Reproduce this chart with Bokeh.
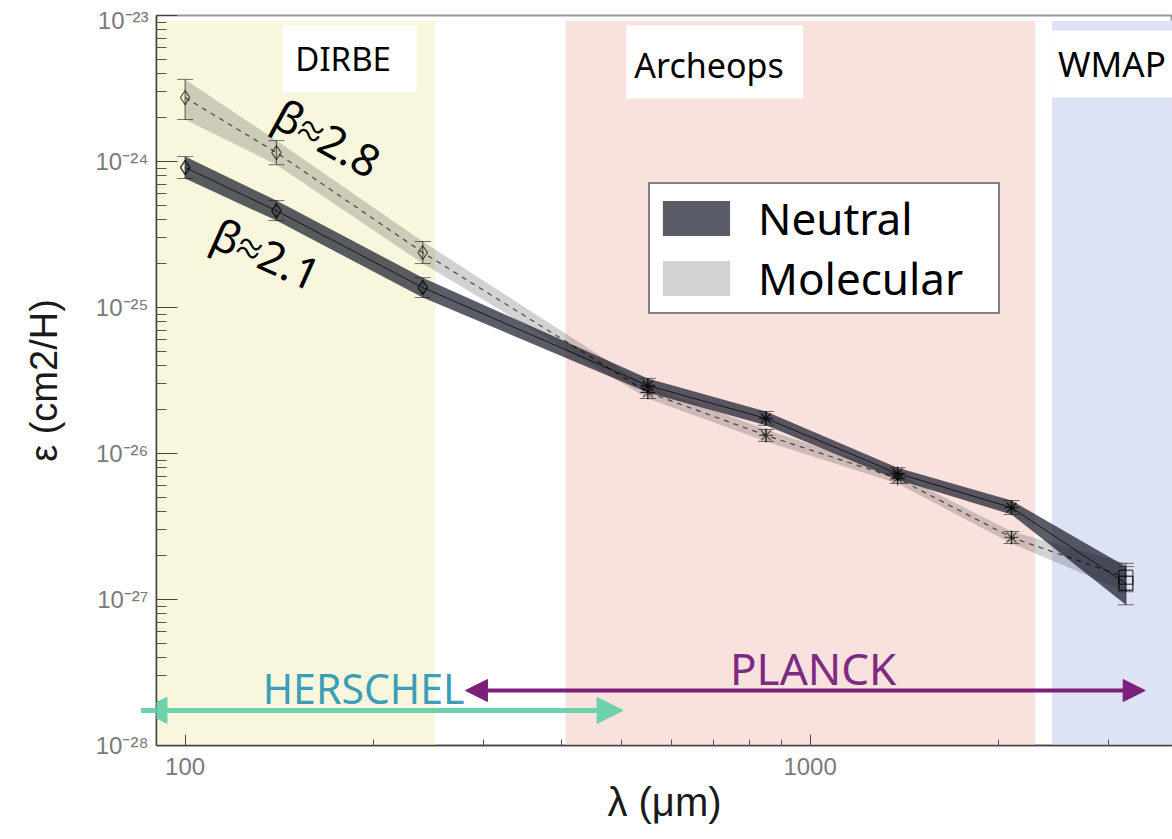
import re
from bokeh.plotting import figure
from bokeh.models import (ColumnDataSource, BoxAnnotation, Whisker, TeeHead, Arrow, NormalHead,
                          FixedTicker, CustomJSTickFormatter, Legend, LegendItem)
from bokeh.core.properties import value
from bokeh.embed import file_html
from bokeh.resources import INLINE

# ---------------- data ----------------
wavelength = [100, 140, 240, 550, 850, 1380, 2100, 3200]          # micron
instrument = ["DIRBE", "DIRBE", "DIRBE", "Archeops", "Archeops", "Archeops", "Archeops", "WMAP"]
neutral = [9.1e-25, 4.6e-25, 1.37e-25, 2.92e-26, 1.74e-26, 7.3e-27, 4.26e-27, 1.29e-27]
neutral_lo = [7.65e-25, 3.94e-25, 1.17e-25, 2.62e-26, 1.56e-26, 6.6e-27, 3.82e-27, 9.2e-28]
neutral_hi = [1.08e-24, 5.4e-25, 1.6e-25, 3.27e-26, 1.94e-26, 8.0e-27, 4.76e-27, 1.68e-27]
molecular = [2.74e-24, 1.15e-24, 2.38e-25, 2.62e-26, 1.33e-26, 6.75e-27, 2.66e-27, 1.42e-27]
molecular_lo = [1.94e-24, 9.5e-25, 2.0e-25, 2.38e-26, 1.21e-26, 6.24e-27, 2.42e-27, 1.13e-27]
molecular_hi = [3.65e-24, 1.39e-24, 2.83e-25, 2.88e-26, 1.46e-26, 7.3e-27, 2.92e-27, 1.77e-27]

# wavelength coverage of the experiments (micron)
region_names = ["DIRBE", "Archeops", "WMAP"]
region_start = [90, 406, 2438]
region_end = [251, 2291, 3800]
herschel_span = [85, 502]
planck_span = [281, 3436]

# axis ticks
x_major = [100, 1000]
x_minor = [200, 300, 400, 500, 600, 700, 800, 900, 2000, 3000]
y_major = [1e-28, 1e-27, 1e-26, 1e-25, 1e-24, 1e-23]
y_minor = [k * 10.0 ** e for e in range(-28, -23) for k in range(2, 10)]

# ---------------- figure ----------------
FONT = "Noto Sans"
p = figure(width=1164, height=833, x_axis_type="log", y_axis_type="log",
           x_range=(90, 3800), y_range=(1e-28, 1e-23),
           output_backend="svg", toolbar_location=None,
           min_border_left=148, min_border_right=0, min_border_top=9, min_border_bottom=94,
           background_fill_color="white", border_fill_color="white")
p.margin = (6, 0, 0, 8)
p.grid.visible = False
p.outline_line_color = "#9a9a9a"
p.outline_line_width = 2

region_colors = {"DIRBE": "#f8f7de", "Archeops": "#f9e1dd", "WMAP": "#dee2f5"}
for name, a, b in zip(region_names, region_start, region_end):
    p.add_layout(BoxAnnotation(left=a, right=b, top=9.2e-24, fill_color=region_colors[name],
                               fill_alpha=1.0, line_color=None, level="underlay"))

# white label boxes for experiment names
label_boxes = [(143.4, 235, 8.55e-24, 2.97e-24), (508, 975, 8.55e-24, 2.7e-24), (2440, 3800, 7.9e-24, 2.74e-24)]
for l, r, t, bt in label_boxes:
    p.add_layout(BoxAnnotation(left=l, right=r, top=t, bottom=bt, fill_color="white",
                               fill_alpha=1.0, line_color=None, level="underlay"))

marker_map = {"DIRBE": "diamond", "Archeops": "asterisk", "WMAP": "square"}
src = ColumnDataSource(dict(
    x=wavelength, n=neutral, nlo=neutral_lo, nhi=neutral_hi,
    m=molecular, mlo=molecular_lo, mhi=molecular_hi,
    marker=[marker_map[i] for i in instrument]))

# bands
r_mol = p.varea(x="x", y1="mlo", y2="mhi", source=src, fill_color="#1c1c1c", fill_alpha=0.2)
r_neu = p.varea(x="x", y1="nlo", y2="nhi", source=src, fill_color="#1b1f2c", fill_alpha=0.72)

# lines
p.line("x", "m", source=src, line_color="black", line_alpha=0.65, line_width=1.2, line_dash="5 5")
p.line("x", "n", source=src, line_color="black", line_alpha=0.75, line_width=1.0)

# error bars
for lo, hi in (("mlo", "mhi"), ("nlo", "nhi")):
    p.add_layout(Whisker(base="x", lower=lo, upper=hi, source=src,
                         line_color="black", line_alpha=0.55, line_width=1.2,
                         upper_head=TeeHead(size=16, line_color="black", line_alpha=0.55),
                         lower_head=TeeHead(size=16, line_color="black", line_alpha=0.55)))

# markers
p.scatter("x", "m", source=src, marker="marker", size=14, fill_color=None,
          line_color="black", line_alpha=0.6, line_width=1.3)
p.scatter("x", "n", source=src, marker="marker", size=14, fill_color=None,
          line_color="black", line_alpha=0.7, line_width=1.5)

# experiment names
p.text(x=[179], y=[5.07e-24], text=["DIRBE"], text_font=value(FONT), text_font_size="33px",
       text_align="center", text_baseline="middle", text_color="black")
p.text(x=[689], y=[4.55e-24], text=["Archeops"], text_font=value(FONT), text_font_size="34px",
       text_align="center", text_baseline="middle", text_color="black")
p.text(x=[3040], y=[4.69e-24], text=["WMAP"], text_font=value(FONT), text_font_size="35px",
       text_align="center", text_baseline="middle", text_color="black")

# spectral index labels
p.text(x=[169], y=[1.46e-24], text=["β≈2.8"], angle=-0.5, text_font=value(FONT),
       text_font_size="44px", text_align="center", text_baseline="middle", text_color="black")
p.text(x=[135], y=[2.34e-25], text=["β≈2.1"], angle=-0.42, text_font=value(FONT),
       text_font_size="44px", text_align="center", text_baseline="middle", text_color="black")

# Herschel / Planck coverage arrows
teal = "#6dd1ab"
purple = "#7b1f7b"
p.add_layout(Arrow(x_start=herschel_span[0], x_end=herschel_span[1], y_start=1.74e-28, y_end=1.74e-28,
                   line_color=teal, line_width=5,
                   start=NormalHead(size=26, fill_color=teal, line_color=teal),
                   end=NormalHead(size=26, fill_color=teal, line_color=teal)))
p.add_layout(Arrow(x_start=planck_span[0], x_end=planck_span[1], y_start=2.38e-28, y_end=2.38e-28,
                   line_color=purple, line_width=4,
                   start=NormalHead(size=22, fill_color=purple, line_color=purple),
                   end=NormalHead(size=22, fill_color=purple, line_color=purple)))
p.text(x=[193], y=[2.46e-28], text=["HERSCHEL"], text_font=value(FONT), text_font_size="41px",
       text_align="center", text_baseline="middle", text_color="#3a9fb6")
p.text(x=[1011], y=[3.37e-28], text=["PLANCK"], text_font=value(FONT), text_font_size="44px",
       text_align="center", text_baseline="middle", text_color="#7d2a84")

# legend
legend = Legend(items=[LegendItem(label="Neutral", renderers=[r_neu]),
                       LegendItem(label="Molecular", renderers=[r_mol])],
                location=(492, 431), orientation="vertical",
                label_text_font=FONT, label_text_font_size="44px", label_text_color="black",
                glyph_width=84, glyph_height=44, label_standoff=20, label_width=236,
                padding=4, spacing=0, margin=0,
                border_line_color="black", border_line_width=2.5,
                background_fill_color="white", background_fill_alpha=1.0)
p.add_layout(legend)

# axes
p.xaxis.ticker = FixedTicker(ticks=x_major, minor_ticks=x_minor)
p.yaxis.ticker = FixedTicker(ticks=y_major, minor_ticks=y_minor)
p.xaxis.formatter = CustomJSTickFormatter(code="return String(Math.round(tick));")
p.yaxis.formatter = CustomJSTickFormatter(code="""
const e = Math.round(Math.log10(tick));
const sup = {'-':'\u207b','0':'\u2070','1':'\u00b9','2':'\u00b2','3':'\u00b3','4':'\u2074',
             '5':'\u2075','6':'\u2076','7':'\u2077','8':'\u2078','9':'\u2079'};
return '10' + String(e).split('').map(c => sup[c]).join('');
""")
for ax in (p.xaxis[0], p.yaxis[0]):
    ax.axis_line_color = "#444444"
    ax.axis_line_width = 1.5
    ax.major_tick_line_color = "#444444"
    ax.minor_tick_line_color = "#555555"
    ax.major_tick_out = 0
    ax.minor_tick_out = 0
    ax.major_label_text_color = "#7a7a7a"
    ax.major_label_text_font = "Liberation Sans"
    ax.major_label_text_font_size = "24px"
    ax.axis_label_text_font = "Liberation Sans"
    ax.axis_label_text_font_style = "normal"
    ax.axis_label_text_color = "#1a1a1a"
p.yaxis.major_tick_in = 21
p.yaxis.minor_tick_in = 10
p.xaxis.major_tick_in = 11
p.xaxis.minor_tick_in = 6
p.yaxis.major_label_standoff = 8
p.xaxis.major_label_standoff = 12
p.yaxis.axis_label = "ε (cm2/H)"
p.yaxis.axis_label_text_font_size = "38px"
p.yaxis.axis_label_standoff = 28
p.xaxis.axis_label = "λ (μm)"
p.xaxis.axis_label_text_font_size = "40px"
p.xaxis.axis_label_standoff = 2

html = file_html(p, INLINE)
html = re.sub(r"<body([^>]*)>", '<body style="margin:0;background:#3d414b;overflow:hidden;">', html, count=1)
open("out.html", "w").write(html)
